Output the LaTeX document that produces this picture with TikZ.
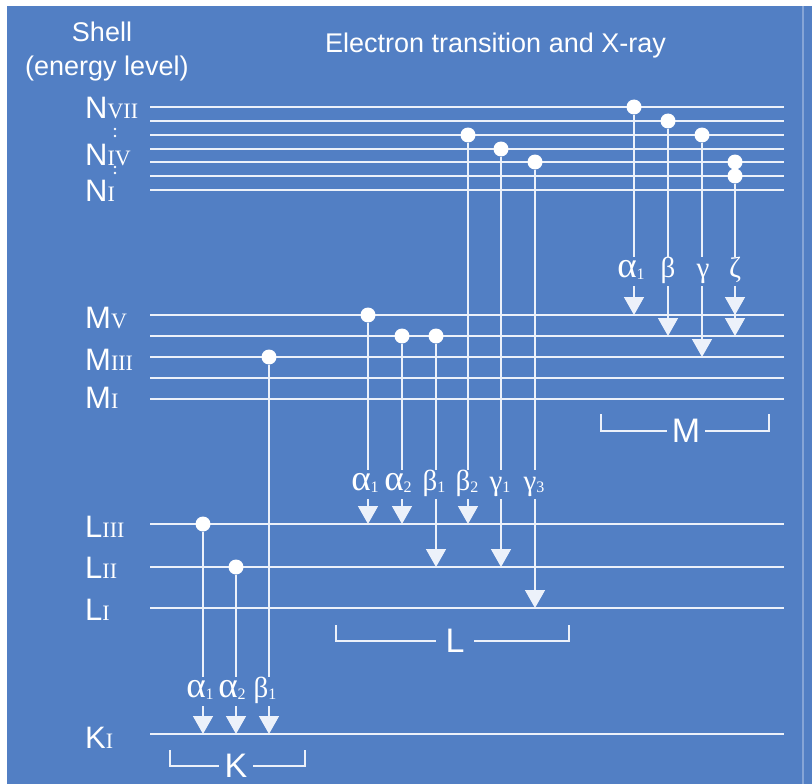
\documentclass[tikz,border=0pt]{standalone}
\usepackage{fontspec}
\usepackage{graphicx}
\setmainfont{Liberation Sans}
\newfontfamily\serifgr{Liberation Serif}
\usetikzlibrary{arrows.meta}
\definecolor{bg}{RGB}{82,127,196}
\definecolor{ln}{RGB}{236,241,250}
\newcommand\shellsub[2]{{\fontsize{31}{31}\selectfont #1}{\serifgr\fontsize{22}{22}\selectfont #2}}
\newcommand\gl[2]{{\serifgr\fontsize{29}{29}\selectfont #1\raisebox{-2pt}{\fontsize{16}{16}\selectfont #2}}}
\newcommand\alf{\scalebox{1.28}[1.25]{α}}
\begin{document}
\begin{tikzpicture}[x=1pt,y=-1pt,
  level/.style={draw=ln, line width=2.6pt},
  trans/.style={draw=ln, line width=1.5pt, -{Triangle[width=20pt,length=18pt]}},
  edot/.style={circle, fill=white, inner sep=0pt, minimum size=15pt},
  glab/.style={fill=bg, inner sep=1pt, text=white, text height=20pt, text depth=7pt},
  shl/.style={anchor=base west, text=white, inner sep=0pt},
  brk/.style={draw=ln, line width=2.4pt},
  blab/.style={text=white, font=\fontsize{34}{34}\selectfont, inner xsep=5pt, inner ysep=0pt},
  ttl/.style={text=white, font=\fontsize{27}{27}\selectfont, inner sep=0pt}]
\useasboundingbox (0,0) rectangle (812,784);
\fill[white] (0,0) rectangle (812,784);
\fill[bg] (7,6) rectangle (812,784);
\draw[bg!70!white, line width=1.2pt] (803,6) -- (803,784);
% titles
\node[ttl, anchor=base] (tshell) at (102,42) {Shell};
\node[ttl, anchor=base] (tenergy) at (107,76) {(energy level)};
\node[ttl, anchor=base west] (ttrans) at (325,53) {Electron transition and X-ray};
% levels
\foreach \n/\y in {N1/107,N2/121,N3/135,N4/149,N5/162,N6/176,N7/190,
                   M1/315,M2/336,M3/357,M4/378,M5/399,
                   L1/524,L2/567,L3/608,K1/734}{
  \coordinate (\n-w) at (150,\y);
  \coordinate (\n-e) at (784,\y);
  \draw[level] (\n-w) -- (\n-e);
}
% shell labels
\node[shl] (sN7) at (85,118) {\shellsub{N}{VII}};
\node[shl] (sN4) at (85,165) {\shellsub{N}{IV}};
\node[shl] (sN1) at (85,201) {\shellsub{N}{I}};
\node[shl] (sM5) at (85,328) {\shellsub{M}{V}};
\node[shl] (sM3) at (85,370) {\shellsub{M}{III}};
\node[shl] (sM1) at (85,408) {\shellsub{M}{I}};
\node[shl] (sL3) at (85,537) {\shellsub{L}{III}};
\node[shl] (sL2) at (85,578) {\shellsub{L}{II}};
\node[shl] (sL1) at (85,620) {\shellsub{L}{I}};
\node[shl] (sK1) at (85,748) {\shellsub{K}{I}};
\foreach \yy in {129,136,167,173}{\fill[white] (115,\yy) circle (1.3pt);}
% electron dots
\node[edot] (dKa1) at (203,524) {};
\node[edot] (dKa2) at (236,567) {};
\node[edot] (dKb1) at (269,357) {};
\node[edot] (dLa1) at (368,315) {};
\node[edot] (dLa2) at (402,336) {};
\node[edot] (dLb1) at (436,336) {};
\node[edot] (dLb2) at (468,135) {};
\node[edot] (dLg1) at (501,149) {};
\node[edot] (dLg3) at (535,162) {};
\node[edot] (dMa1) at (634,107) {};
\node[edot] (dMb)  at (668,121) {};
\node[edot] (dMg)  at (702,135) {};
\node[edot] (dMz5) at (735,162) {};
\node[edot] (dMz6) at (735,176) {};
% transitions
\draw[trans] (dKa1) -- (dKa1 |- K1-w);
\draw[trans] (dKa2) -- (dKa2 |- K1-w);
\draw[trans] (dKb1) -- (dKb1 |- K1-w);
\draw[trans] (dLa1) -- (dLa1 |- L1-w);
\draw[trans] (dLa2) -- (dLa2 |- L1-w);
\draw[trans] (dLb1) -- (dLb1 |- L2-w);
\draw[trans] (dLb2) -- (dLb2 |- L1-w);
\draw[trans] (dLg1) -- (dLg1 |- L2-w);
\draw[trans] (dLg3) -- (dLg3 |- L3-w);
\draw[trans] (dMa1) -- (dMa1 |- M1-w);
\draw[trans] (dMb)  -- (dMb |- M2-w);
\draw[trans] (dMg)  -- (dMg |- M3-w);
\draw[trans] (dMz6) -- (dMz6 |- M2-w);
\draw[trans] (dMz6) -- (dMz6 |- M1-w);
% transition labels
\node[glab] (lKa1) at (200,691) {\gl{\alf}{1}};
\node[glab] (lKa2) at (232,691) {\gl{\alf}{2}};
\node[glab] (lKb1) at (265,691) {\gl{β}{1}};
\node[glab] (lLa1) at (365,484) {\gl{\alf}{1}};
\node[glab] (lLa2) at (398,484) {\gl{\alf}{2}};
\node[glab] (lLb1) at (434,484) {\gl{β}{1}};
\node[glab] (lLb2) at (467,484) {\gl{β}{2}};
\node[glab] (lLg1) at (500,484) {\gl{γ}{1}};
\node[glab] (lLg3) at (534,484) {\gl{γ}{3}};
\node[glab] (lMa1) at (631,271) {\gl{\alf}{1}};
\node[glab] (lMb)  at (668,271) {\gl{β}{}};
\node[glab] (lMg)  at (703,271) {\gl{γ}{}};
\node[glab] (lMz)  at (735,271) {\gl{ζ}{}};
% brackets
\coordinate (bKl) at (170,750); \coordinate (bKr) at (305,750);
\node[blab] (bK) at (236,766) {K};
\draw[brk] (bKl) |- (bK.west);
\draw[brk] (bKr) |- (bK.east);
\coordinate (bLl) at (336,625); \coordinate (bLr) at (569,625);
\node[blab, inner xsep=9pt] (bL) at (455,641) {L};
\draw[brk] (bLl) |- (bL.west);
\draw[brk] (bLr) |- (bL.east);
\coordinate (bMl) at (601,414); \coordinate (bMr) at (769,414);
\node[blab] (bM) at (686,431) {M};
\draw[brk] (bMl) |- (bM.west);
\draw[brk] (bMr) |- (bM.east);
\end{tikzpicture}
\end{document}
